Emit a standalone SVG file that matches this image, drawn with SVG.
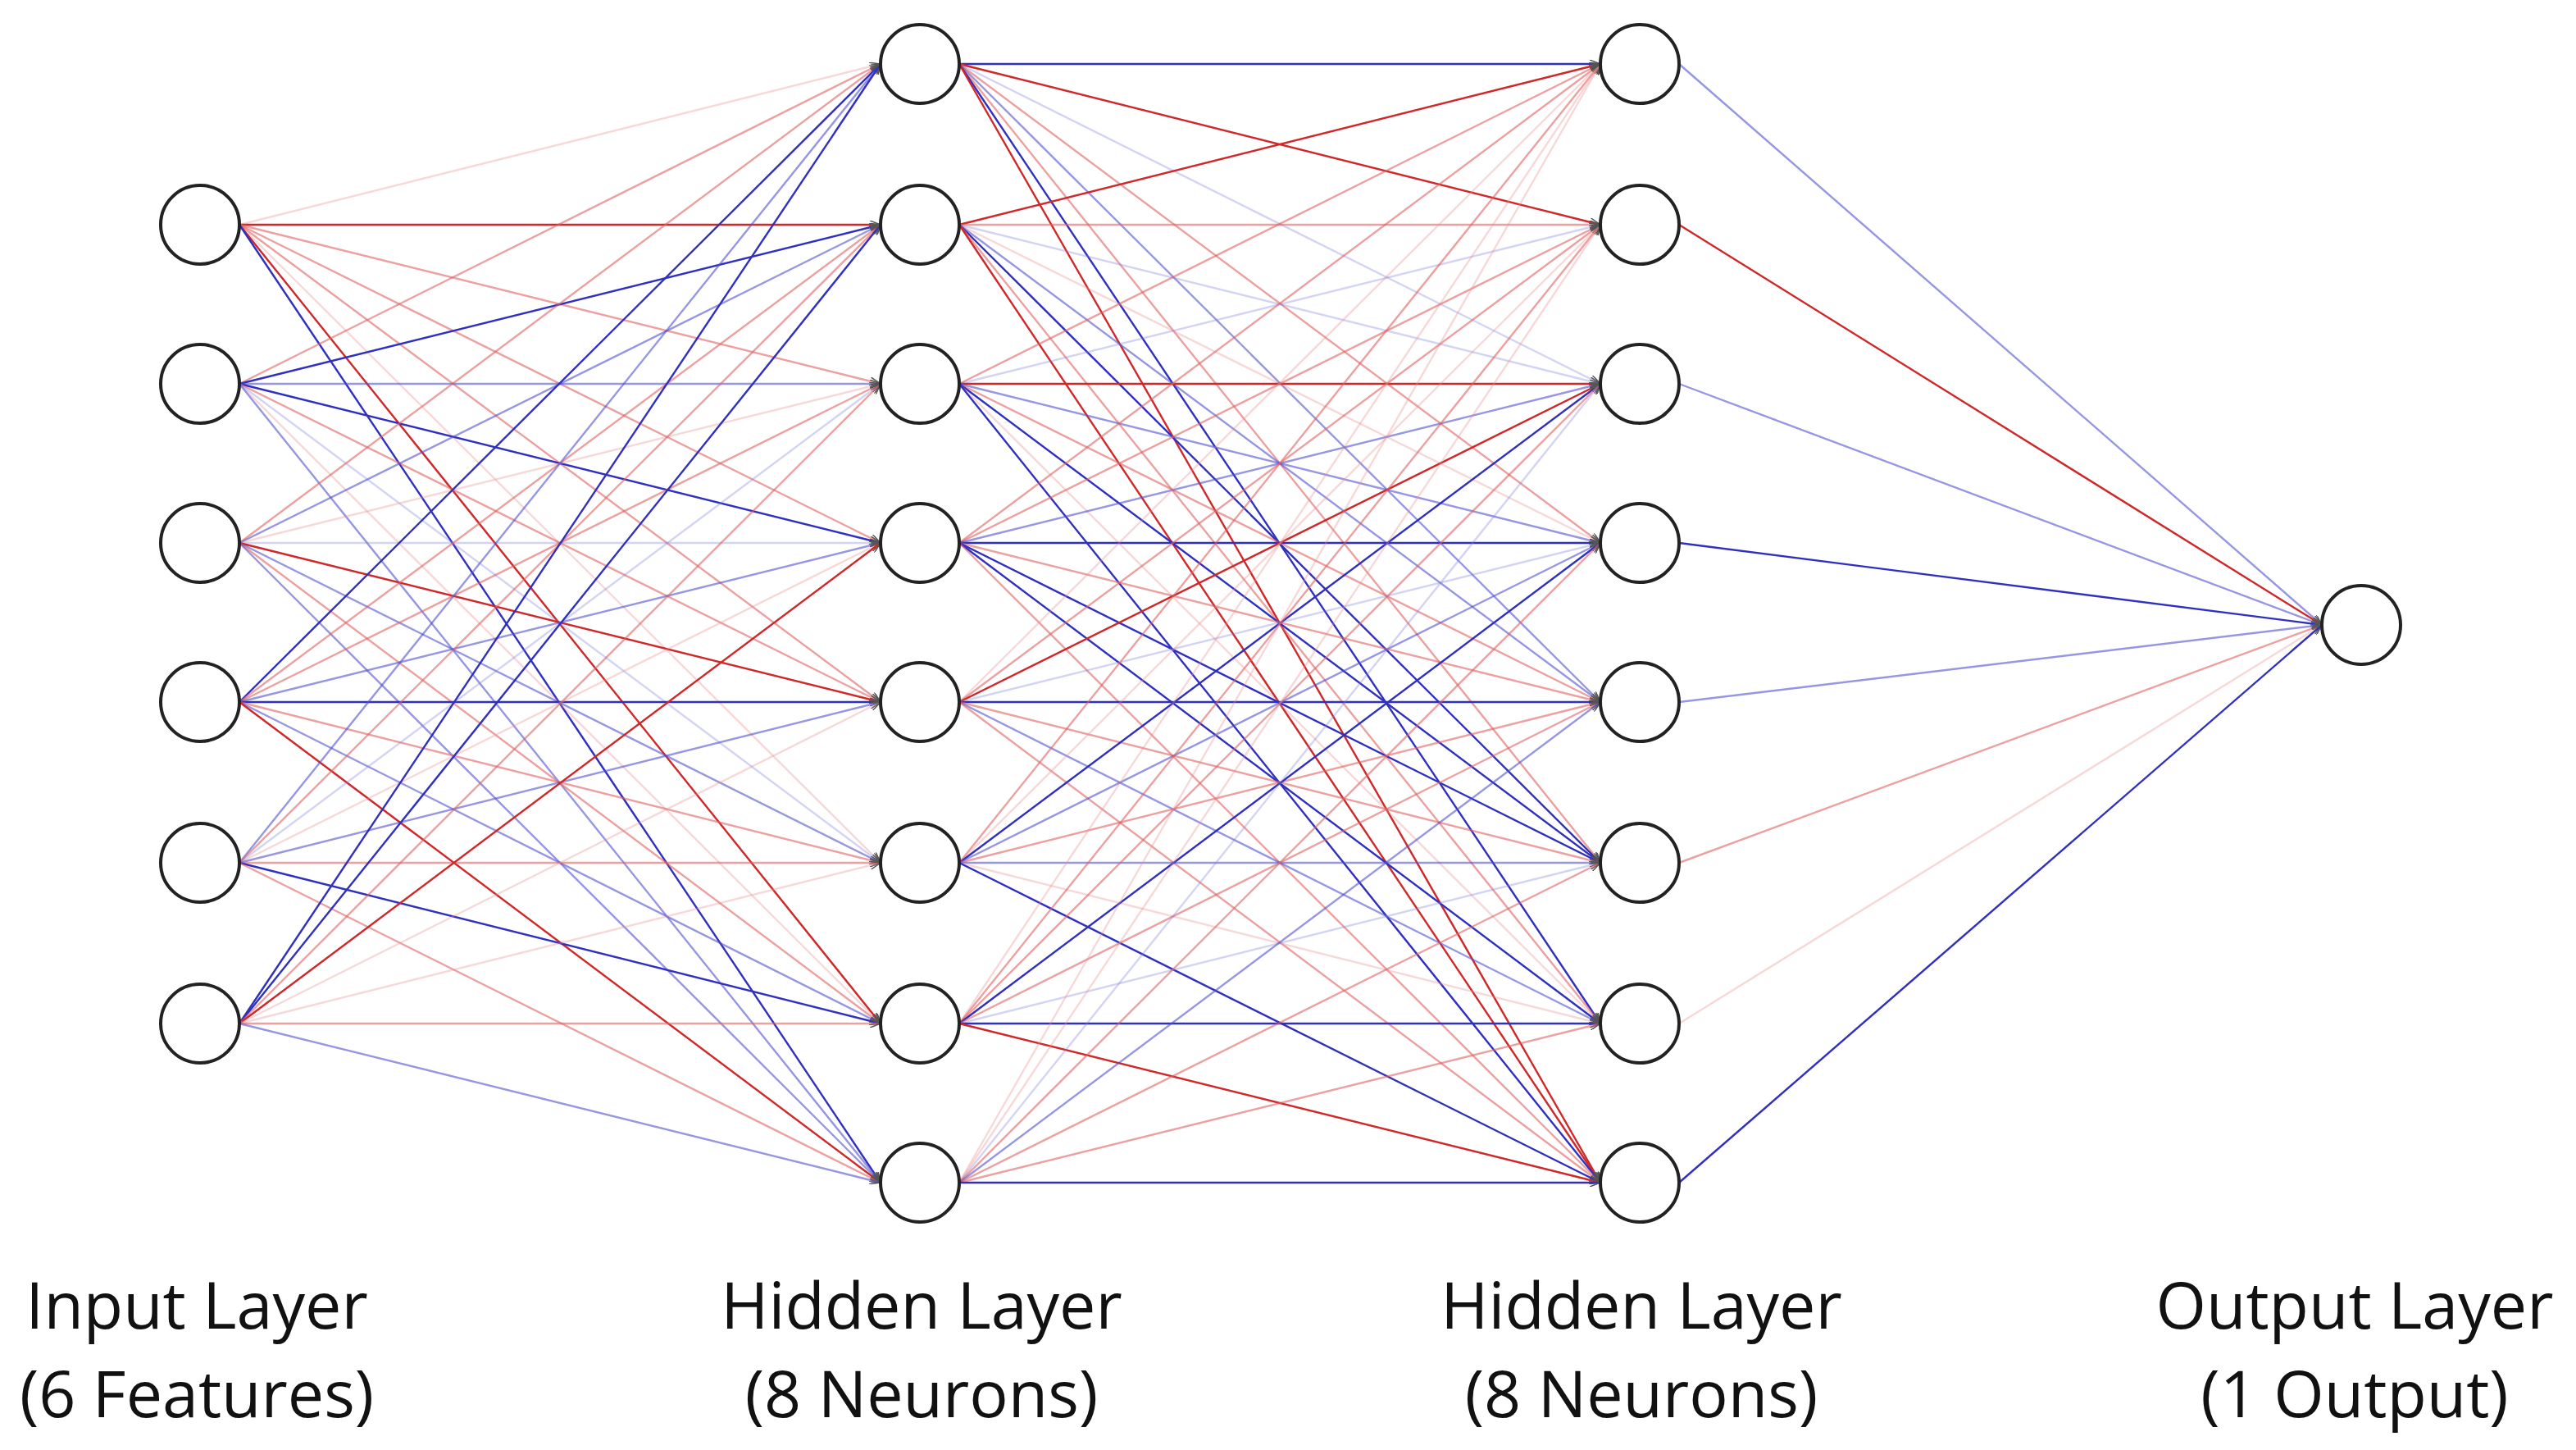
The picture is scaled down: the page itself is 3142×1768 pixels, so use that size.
<svg xmlns="http://www.w3.org/2000/svg" width="3142" height="1768" viewBox="0 0 3142 1768">
<style>
.n{fill:#fff;stroke:#222;stroke-width:4}
line{stroke-width:2.4;marker-end:url(#a)}
.r1{stroke:#d02828}.r2{stroke:#e06060;stroke-opacity:.6}.r3{stroke:#e89090;stroke-opacity:.35}
.b1{stroke:#3030c0}.b2{stroke:#5050d0;stroke-opacity:.6}.b3{stroke:#8080e0;stroke-opacity:.35}
text{font-family:"Open Sans","Liberation Sans",sans-serif;font-size:79px;fill:#111;text-anchor:middle}
</style>
<defs><marker id="a" markerWidth="14" markerHeight="10" refX="13" refY="5" orient="auto" markerUnits="userSpaceOnUse"><path d="M0,0L13,5L0,10" fill="none" stroke="#555" stroke-width="1.5"/></marker></defs>
<g id="connectors">
<line class="r3" x1="292" y1="274" x2="1074" y2="78"/><line class="r1" x1="292" y1="274" x2="1074" y2="274"/><line class="r2" x1="292" y1="274" x2="1074" y2="468"/><line class="r2" x1="292" y1="274" x2="1074" y2="662"/><line class="r2" x1="292" y1="274" x2="1074" y2="856"/><line class="r3" x1="292" y1="274" x2="1074" y2="1052"/><line class="r1" x1="292" y1="274" x2="1074" y2="1248"/><line class="b1" x1="292" y1="274" x2="1074" y2="1442"/>
<line class="r2" x1="292" y1="468" x2="1074" y2="78"/><line class="b1" x1="292" y1="468" x2="1074" y2="274"/><line class="b2" x1="292" y1="468" x2="1074" y2="468"/><line class="b1" x1="292" y1="468" x2="1074" y2="662"/><line class="r2" x1="292" y1="468" x2="1074" y2="856"/><line class="b3" x1="292" y1="468" x2="1074" y2="1052"/><line class="r3" x1="292" y1="468" x2="1074" y2="1248"/><line class="b2" x1="292" y1="468" x2="1074" y2="1442"/>
<line class="r2" x1="292" y1="662" x2="1074" y2="78"/><line class="b2" x1="292" y1="662" x2="1074" y2="274"/><line class="r3" x1="292" y1="662" x2="1074" y2="468"/><line class="b3" x1="292" y1="662" x2="1074" y2="662"/><line class="r1" x1="292" y1="662" x2="1074" y2="856"/><line class="b2" x1="292" y1="662" x2="1074" y2="1052"/><line class="r2" x1="292" y1="662" x2="1074" y2="1248"/><line class="b2" x1="292" y1="662" x2="1074" y2="1442"/>
<line class="b1" x1="292" y1="856" x2="1074" y2="78"/><line class="r2" x1="292" y1="856" x2="1074" y2="274"/><line class="r2" x1="292" y1="856" x2="1074" y2="468"/><line class="b2" x1="292" y1="856" x2="1074" y2="662"/><line class="b1" x1="292" y1="856" x2="1074" y2="856"/><line class="r2" x1="292" y1="856" x2="1074" y2="1052"/><line class="b2" x1="292" y1="856" x2="1074" y2="1248"/><line class="r1" x1="292" y1="856" x2="1074" y2="1442"/>
<line class="b2" x1="292" y1="1052" x2="1074" y2="78"/><line class="r2" x1="292" y1="1052" x2="1074" y2="274"/><line class="b3" x1="292" y1="1052" x2="1074" y2="468"/><line class="r3" x1="292" y1="1052" x2="1074" y2="662"/><line class="b2" x1="292" y1="1052" x2="1074" y2="856"/><line class="r2" x1="292" y1="1052" x2="1074" y2="1052"/><line class="b1" x1="292" y1="1052" x2="1074" y2="1248"/><line class="r2" x1="292" y1="1052" x2="1074" y2="1442"/>
<line class="b1" x1="292" y1="1248" x2="1074" y2="78"/><line class="b1" x1="292" y1="1248" x2="1074" y2="274"/><line class="r2" x1="292" y1="1248" x2="1074" y2="468"/><line class="r1" x1="292" y1="1248" x2="1074" y2="662"/><line class="r3" x1="292" y1="1248" x2="1074" y2="856"/><line class="r3" x1="292" y1="1248" x2="1074" y2="1052"/><line class="r2" x1="292" y1="1248" x2="1074" y2="1248"/><line class="b2" x1="292" y1="1248" x2="1074" y2="1442"/>

<line class="b1" x1="1170" y1="78" x2="1952" y2="78"/><line class="r1" x1="1170" y1="78" x2="1952" y2="274"/><line class="b3" x1="1170" y1="78" x2="1952" y2="468"/><line class="r2" x1="1170" y1="78" x2="1952" y2="662"/><line class="b2" x1="1170" y1="78" x2="1952" y2="856"/><line class="r2" x1="1170" y1="78" x2="1952" y2="1052"/><line class="b1" x1="1170" y1="78" x2="1952" y2="1248"/><line class="r1" x1="1170" y1="78" x2="1952" y2="1442"/>
<line class="r1" x1="1170" y1="274" x2="1952" y2="78"/><line class="r2" x1="1170" y1="274" x2="1952" y2="274"/><line class="b3" x1="1170" y1="274" x2="1952" y2="468"/><line class="r3" x1="1170" y1="274" x2="1952" y2="662"/><line class="b2" x1="1170" y1="274" x2="1952" y2="856"/><line class="b1" x1="1170" y1="274" x2="1952" y2="1052"/><line class="r2" x1="1170" y1="274" x2="1952" y2="1248"/><line class="r1" x1="1170" y1="274" x2="1952" y2="1442"/>
<line class="r2" x1="1170" y1="468" x2="1952" y2="78"/><line class="b3" x1="1170" y1="468" x2="1952" y2="274"/><line class="r1" x1="1170" y1="468" x2="1952" y2="468"/><line class="b2" x1="1170" y1="468" x2="1952" y2="662"/><line class="r2" x1="1170" y1="468" x2="1952" y2="856"/><line class="b1" x1="1170" y1="468" x2="1952" y2="1052"/><line class="r3" x1="1170" y1="468" x2="1952" y2="1248"/><line class="b1" x1="1170" y1="468" x2="1952" y2="1442"/>
<line class="r2" x1="1170" y1="662" x2="1952" y2="78"/><line class="r2" x1="1170" y1="662" x2="1952" y2="274"/><line class="b2" x1="1170" y1="662" x2="1952" y2="468"/><line class="b1" x1="1170" y1="662" x2="1952" y2="662"/><line class="r2" x1="1170" y1="662" x2="1952" y2="856"/><line class="b1" x1="1170" y1="662" x2="1952" y2="1052"/><line class="b1" x1="1170" y1="662" x2="1952" y2="1248"/><line class="r2" x1="1170" y1="662" x2="1952" y2="1442"/>
<line class="r3" x1="1170" y1="856" x2="1952" y2="78"/><line class="r2" x1="1170" y1="856" x2="1952" y2="274"/><line class="r1" x1="1170" y1="856" x2="1952" y2="468"/><line class="b3" x1="1170" y1="856" x2="1952" y2="662"/><line class="b1" x1="1170" y1="856" x2="1952" y2="856"/><line class="r2" x1="1170" y1="856" x2="1952" y2="1052"/><line class="b2" x1="1170" y1="856" x2="1952" y2="1248"/><line class="r2" x1="1170" y1="856" x2="1952" y2="1442"/>
<line class="r2" x1="1170" y1="1052" x2="1952" y2="78"/><line class="r3" x1="1170" y1="1052" x2="1952" y2="274"/><line class="b1" x1="1170" y1="1052" x2="1952" y2="468"/><line class="b2" x1="1170" y1="1052" x2="1952" y2="662"/><line class="r2" x1="1170" y1="1052" x2="1952" y2="856"/><line class="b2" x1="1170" y1="1052" x2="1952" y2="1052"/><line class="r3" x1="1170" y1="1052" x2="1952" y2="1248"/><line class="b1" x1="1170" y1="1052" x2="1952" y2="1442"/>
<line class="r3" x1="1170" y1="1248" x2="1952" y2="78"/><line class="r2" x1="1170" y1="1248" x2="1952" y2="274"/><line class="r2" x1="1170" y1="1248" x2="1952" y2="468"/><line class="b1" x1="1170" y1="1248" x2="1952" y2="662"/><line class="r2" x1="1170" y1="1248" x2="1952" y2="856"/><line class="b3" x1="1170" y1="1248" x2="1952" y2="1052"/><line class="b1" x1="1170" y1="1248" x2="1952" y2="1248"/><line class="r1" x1="1170" y1="1248" x2="1952" y2="1442"/>
<line class="r3" x1="1170" y1="1442" x2="1952" y2="78"/><line class="r3" x1="1170" y1="1442" x2="1952" y2="274"/><line class="b3" x1="1170" y1="1442" x2="1952" y2="468"/><line class="r2" x1="1170" y1="1442" x2="1952" y2="662"/><line class="b2" x1="1170" y1="1442" x2="1952" y2="856"/><line class="r2" x1="1170" y1="1442" x2="1952" y2="1052"/><line class="r2" x1="1170" y1="1442" x2="1952" y2="1248"/><line class="b1" x1="1170" y1="1442" x2="1952" y2="1442"/>

<line class="b2" x1="2048" y1="78" x2="2832" y2="762"/><line class="r1" x1="2048" y1="274" x2="2832" y2="762"/><line class="b2" x1="2048" y1="468" x2="2832" y2="762"/><line class="b1" x1="2048" y1="662" x2="2832" y2="762"/><line class="b2" x1="2048" y1="856" x2="2832" y2="762"/><line class="r2" x1="2048" y1="1052" x2="2832" y2="762"/><line class="r3" x1="2048" y1="1248" x2="2832" y2="762"/><line class="b1" x1="2048" y1="1442" x2="2832" y2="762"/>
</g>
<g id="input"><circle class="n" cx="244" cy="274" r="48"/><circle class="n" cx="244" cy="468" r="48"/><circle class="n" cx="244" cy="662" r="48"/><circle class="n" cx="244" cy="856" r="48"/><circle class="n" cx="244" cy="1052" r="48"/><circle class="n" cx="244" cy="1248" r="48"/></g>
<g id="hidden1"><circle class="n" cx="1122" cy="78" r="48"/><circle class="n" cx="1122" cy="274" r="48"/><circle class="n" cx="1122" cy="468" r="48"/><circle class="n" cx="1122" cy="662" r="48"/><circle class="n" cx="1122" cy="856" r="48"/><circle class="n" cx="1122" cy="1052" r="48"/><circle class="n" cx="1122" cy="1248" r="48"/><circle class="n" cx="1122" cy="1442" r="48"/></g>
<g id="hidden2"><circle class="n" cx="2000" cy="78" r="48"/><circle class="n" cx="2000" cy="274" r="48"/><circle class="n" cx="2000" cy="468" r="48"/><circle class="n" cx="2000" cy="662" r="48"/><circle class="n" cx="2000" cy="856" r="48"/><circle class="n" cx="2000" cy="1052" r="48"/><circle class="n" cx="2000" cy="1248" r="48"/><circle class="n" cx="2000" cy="1442" r="48"/></g>
<g id="output"><circle class="n" cx="2880" cy="762" r="48"/></g>
<g id="labels">
<text x="240" y="1620">Input Layer</text><text x="240" y="1728">(6 Features)</text>
<text x="1124" y="1620">Hidden Layer</text><text x="1124" y="1728">(8 Neurons)</text>
<text x="2002" y="1620">Hidden Layer</text><text x="2002" y="1728">(8 Neurons)</text>
<text x="2872" y="1620">Output Layer</text><text x="2872" y="1728">(1 Output)</text>
</g>
</svg>
